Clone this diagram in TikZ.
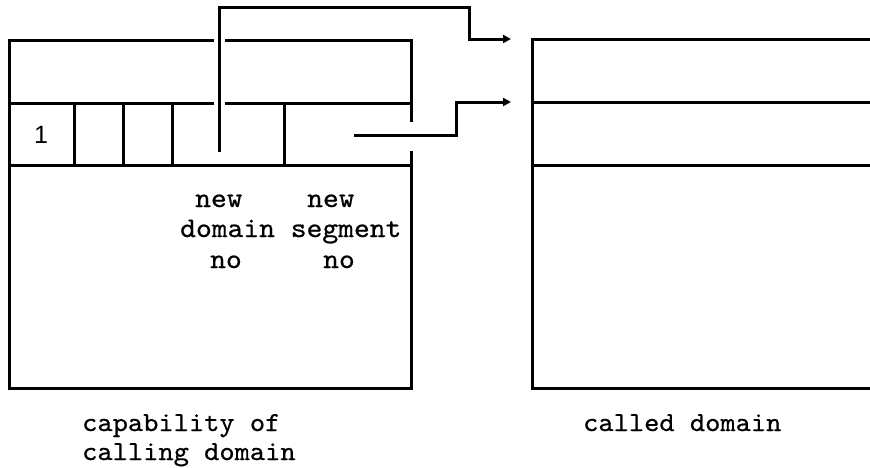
\documentclass[tikz,border=0pt]{standalone}
\usepackage{fontspec}
\setmonofont{lmmono10-regular.otf}[FakeStretch=1.056,FakeBold=0.6]
\newfontfamily\cellfont{Liberation Sans}
\usetikzlibrary{arrows.meta}
\begin{document}
\begin{tikzpicture}[x=1pt,y=-1pt,
  frame/.style={line width=3pt,line cap=rect},
  link/.style={line width=3pt,-{Triangle[length=8pt,width=8pt]}},
  lbl/.style={font=\ttfamily\fontsize{28.5}{31}\selectfont,inner sep=0pt,anchor=base west},
  captiontext/.style={font=\ttfamily\fontsize{27.5}{30}\selectfont,inner sep=0pt,anchor=base west}]
\useasboundingbox (0,0) rectangle (870,467);

% capability of the calling domain
\draw[frame] (9,40) -- (212,40) (226,40) -- (411,40) -- (411,120);
\draw[frame] (9,40) -- (9,388) -- (411,388) -- (411,152);
\draw[frame] (9,103) -- (212,103) (226,103) -- (411,103);
\draw[frame] (9,165) -- (411,165);
\foreach \x in {74,123,172,284} \draw[frame] (\x,103) -- (\x,165);
\node[font=\cellfont\fontsize{25}{27}\selectfont,inner sep=0pt,anchor=base] (one) at (41,143) {1};

% called domain
\draw[frame] (870,39) -- (532,39) -- (532,388) -- (870,388);
\draw[frame] (532,102) -- (870,102);
\draw[frame] (532,165) -- (870,165);

% connectors
\coordinate (dstart) at (219,152);
\coordinate (dend) at (511,39);
\coordinate (sstart) at (354,135);
\coordinate (send) at (511,102);
\draw[link] (dstart) -- (219,7) -- (469,7) -- (469,39) -- (dend);
\draw[link] (sstart) -- (456,135) -- (456,102) -- (send);

% field labels
\node[lbl] (n1) at (195,207) {new};
\node[lbl] (n2) at (307,207) {new};
\node[lbl] (d1) at (180,237) {domain segment};
\node[lbl] (o1) at (210,268) {no};
\node[lbl] (o2) at (323,268) {no};

% captions
\node[captiontext] (c1) at (82,431) {capability of};
\node[captiontext] (c2) at (82,460) {calling domain};
\node[captiontext] (c3) at (583,431) {called domain};
\end{tikzpicture}
\end{document}
